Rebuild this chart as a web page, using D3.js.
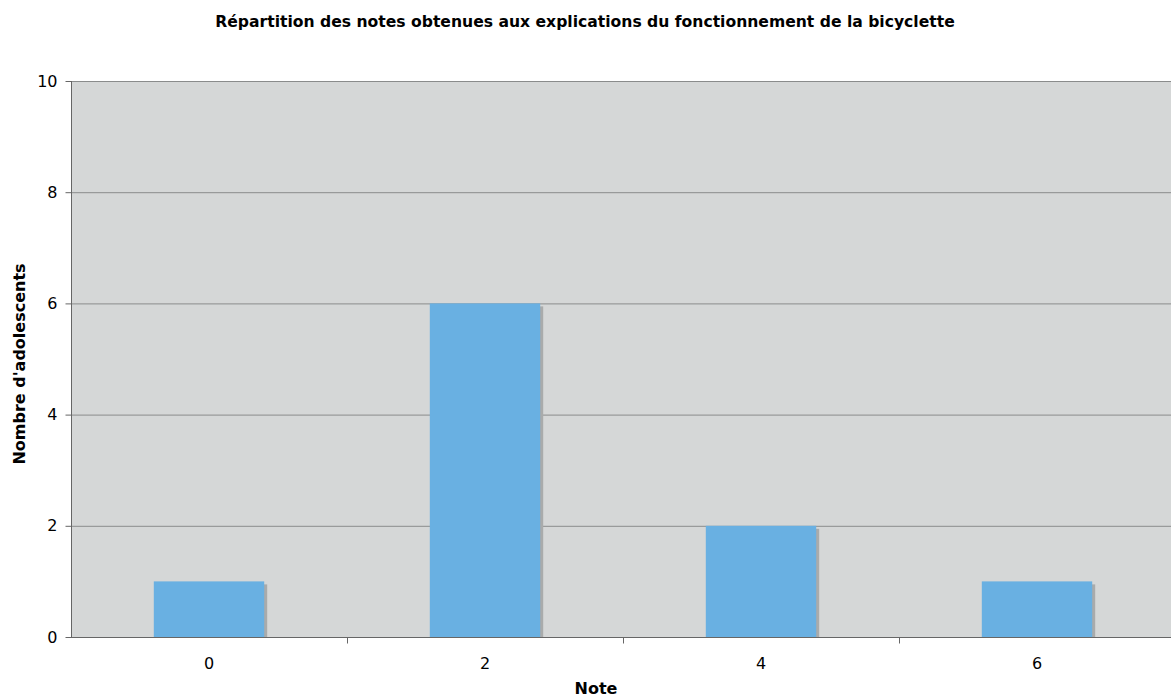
<!DOCTYPE html>
<html>
<head>
<meta charset="utf-8">
<script src="https://cdn.jsdelivr.net/npm/d3@7"></script>
<style>
  body { margin: 0; background: #fff; }
  text { font-family: "DejaVu Sans", Verdana, sans-serif; }
</style>
</head>
<body>
<script>
const notes = ["0", "2", "4", "6"];
const effectifs = [1, 6, 2, 1];
const yTicks = [0, 2, 4, 6, 8, 10];

const w = 1171;
const h = 699;
const margin = { top: 81, left: 71, bottom: 62 };
const plotW = 276 * notes.length;
const plotH = h - margin.top - margin.bottom;

const svg = d3.select("body")
              .append("svg")
              .attr("width", w)
              .attr("height", h)

svg.append("text")
   .attr("x", 585)
   .attr("y", 27)
   .attr("text-anchor", "middle")
   .style("font-size", "15.6px")
   .style("font-weight", "bold")
   .text("Répartition des notes obtenues aux explications du fonctionnement de la bicyclette")

const x = d3.scaleBand()
            .domain(notes)
            .range([margin.left, margin.left + plotW])
            .paddingInner(0.6)
            .paddingOuter(0.3)

const xb = d3.scaleBand()
             .domain(notes)
             .range([margin.left, margin.left + plotW])

const y = d3.scaleLinear()
            .domain([0, 10])
            .range([margin.top + plotH, margin.top])

// fond
svg.append("rect")
   .attr("x", margin.left)
   .attr("y", margin.top)
   .attr("width", plotW)
   .attr("height", plotH)
   .attr("fill", "#d5d7d7")

// grille
svg.append("g")
   .selectAll("line")
   .data(yTicks.filter(d => d > 0))
   .enter()
   .append("line")
   .attr("x1", margin.left)
   .attr("x2", margin.left + plotW)
   .attr("y1", d => y(d) + 0.5)
   .attr("y2", d => y(d) + 0.5)
   .attr("stroke", "#8a8c8c")
   .attr("stroke-width", 1)

// ombres
svg.append("g")
   .selectAll("rect")
   .data(effectifs)
   .enter()
   .append("rect")
   .attr("x", (d, i) => x(notes[i]) + 3)
   .attr("y", d => y(d) + 3)
   .attr("width", x.bandwidth())
   .attr("height", d => y(0) - y(d) - 3)
   .attr("fill", "#a9abab")

// barres
svg.append("g")
   .selectAll("rect")
   .data(effectifs)
   .enter()
   .append("rect")
   .attr("x", (d, i) => x(notes[i]))
   .attr("y", d => y(d))
   .attr("width", x.bandwidth())
   .attr("height", d => y(0) - y(d))
   .attr("fill", "#69b0e2")

// axe Y
const yAxis = svg.append("g")
                 .attr("transform", "translate(" + (margin.left + 0.5) + ",0)")
                 .call(d3.axisLeft(y).tickValues(yTicks).tickSize(6).tickPadding(8))
      yAxis.select(".domain").attr("stroke", "#666").attr("d", "M0," + y(0) + "V" + y(10))
      yAxis.selectAll(".tick line").attr("stroke", "#666")
      yAxis.selectAll(".tick text")
           .style("font-size", "16px")
           .style("font-family", "'DejaVu Sans', Verdana, sans-serif")
           .attr("fill", "#000")

// axe X
const xAxis = svg.append("g")
                 .attr("transform", "translate(0," + (y(0) + 0.5) + ")")
      xAxis.append("line")
           .attr("x1", margin.left)
           .attr("x2", margin.left + plotW)
           .attr("stroke", "#666")
      xAxis.selectAll(".sep")
           .data(notes.slice(1))
           .enter()
           .append("line")
           .attr("class", "sep")
           .attr("x1", d => xb(d) + 0.5)
           .attr("x2", d => xb(d) + 0.5)
           .attr("y1", 0)
           .attr("y2", 6)
           .attr("stroke", "#666")
      xAxis.selectAll(".lab")
           .data(notes)
           .enter()
           .append("text")
           .attr("class", "lab")
           .attr("x", d => xb(d) + xb.bandwidth() / 2)
           .attr("y", 31)
           .attr("text-anchor", "middle")
           .style("font-size", "16px")
           .text(d => d)

svg.append("text")
   .attr("x", 596)
   .attr("y", 694)
   .attr("text-anchor", "middle")
   .style("font-size", "16px")
   .style("font-weight", "bold")
   .text("Note")

svg.append("text")
   .attr("transform", "translate(25," + (margin.top + plotH / 2 + 5) + ") rotate(-90)")
   .attr("text-anchor", "middle")
   .style("font-size", "16px")
   .style("font-weight", "bold")
   .text("Nombre d'adolescents")
</script>
</body>
</html>
